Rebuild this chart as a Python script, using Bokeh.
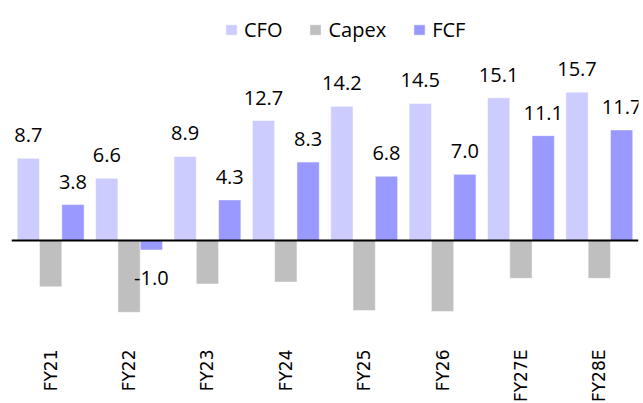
import math
from bokeh.plotting import figure
from bokeh.models import ColumnDataSource, FactorRange, Range1d, Span, Legend, LegendItem
from bokeh.transform import dodge
from bokeh.core.properties import value
from bokeh.embed import file_html
from bokeh.resources import INLINE

# ---- data ----
years = ["FY21", "FY22", "FY23", "FY24", "FY25", "FY26", "FY27E", "FY28E"]
cfo = [8.7, 6.6, 8.9, 12.7, 14.2, 14.5, 15.1, 15.7]
capex = [-4.9, -7.6, -4.6, -4.4, -7.4, -7.5, -4.0, -4.0]
fcf = [3.8, -1.0, 4.3, 8.3, 6.8, 7.0, 11.1, 11.7]
series_names = ["CFO", "Capex", "FCF"]

# ---- style ----
colors = {"CFO": "#CCCCFF", "Capex": "#BFBFBF", "FCF": "#9999FF"}
label_font = "Open Sans"
bw = 0.2845

src = ColumnDataSource(dict(
    year=years, cfo=cfo, capex=capex, fcf=fcf,
    cfo_lbl=[f"{v:.1f}" for v in cfo],
    fcf_lbl=[f"{v:.1f}" for v in fcf],
    cfo_off=[-23 if v >= 0 else 28 for v in cfo],
    fcf_off=[-23 if v >= 0 else 28 for v in fcf],
))

p = figure(
    x_range=FactorRange(factors=years, range_padding=0),
    y_range=Range1d(-11.11, 25.40),
    frame_width=627, frame_height=345,
    min_border_left=11, min_border_right=3, min_border_top=0, min_border_bottom=0,
    output_backend="svg", toolbar_location=None, y_axis_location=None,
)
p.outline_line_color = None
p.grid.visible = False
p.background_fill_color = "white"
p.border_fill_color = "white"

r_cfo = p.vbar(x=dodge("year", -bw, range=p.x_range), top="cfo", bottom=0, width=bw,
               source=src, fill_color=colors["CFO"], line_color="white", line_width=0.5)
r_cap = p.vbar(x=dodge("year", 0, range=p.x_range), top="capex", bottom=0, width=bw,
               source=src, fill_color=colors["Capex"], line_color="white", line_width=0.5)
r_fcf = p.vbar(x=dodge("year", bw, range=p.x_range), top="fcf", bottom=0, width=bw,
               source=src, fill_color=colors["FCF"], line_color="white", line_width=0.5)

p.text(x=dodge("year", -bw, range=p.x_range), y="cfo", text="cfo_lbl", y_offset="cfo_off",
       source=src, text_align="center", text_baseline="alphabetic",
       text_font=value(label_font), text_font_size="20px", text_color="black")
p.text(x=dodge("year", bw, range=p.x_range), y="fcf", text="fcf_lbl", y_offset="fcf_off",
       source=src, text_align="center", text_baseline="alphabetic",
       text_font=value(label_font), text_font_size="20px", text_color="black")

p.add_layout(Span(location=0, dimension="width", line_color="black", line_width=2))

ax = p.xaxis[0]
ax.axis_line_color = None
ax.major_tick_line_color = None
ax.minor_tick_line_color = None
ax.major_tick_out = 0
ax.major_tick_in = 0
ax.major_label_standoff = 4
ax.major_label_orientation = math.pi / 2
ax.major_label_text_font = "DejaVu Sans"
ax.major_label_text_font_size = "17px"
ax.major_label_text_color = "black"

legend = Legend(
    items=[LegendItem(label=n, renderers=[r]) for n, r in zip(series_names, [r_cfo, r_cap, r_fcf])],
    orientation="horizontal", location=(213, 302),
    glyph_width=14, glyph_height=13, label_standoff=6, spacing=26,
    padding=0, margin=0, border_line_color=None, background_fill_alpha=0,
    label_text_font=label_font, label_text_font_size="20px", label_text_color="black",
)
p.add_layout(legend)

open("out.html", "w").write(file_html(p, INLINE))
